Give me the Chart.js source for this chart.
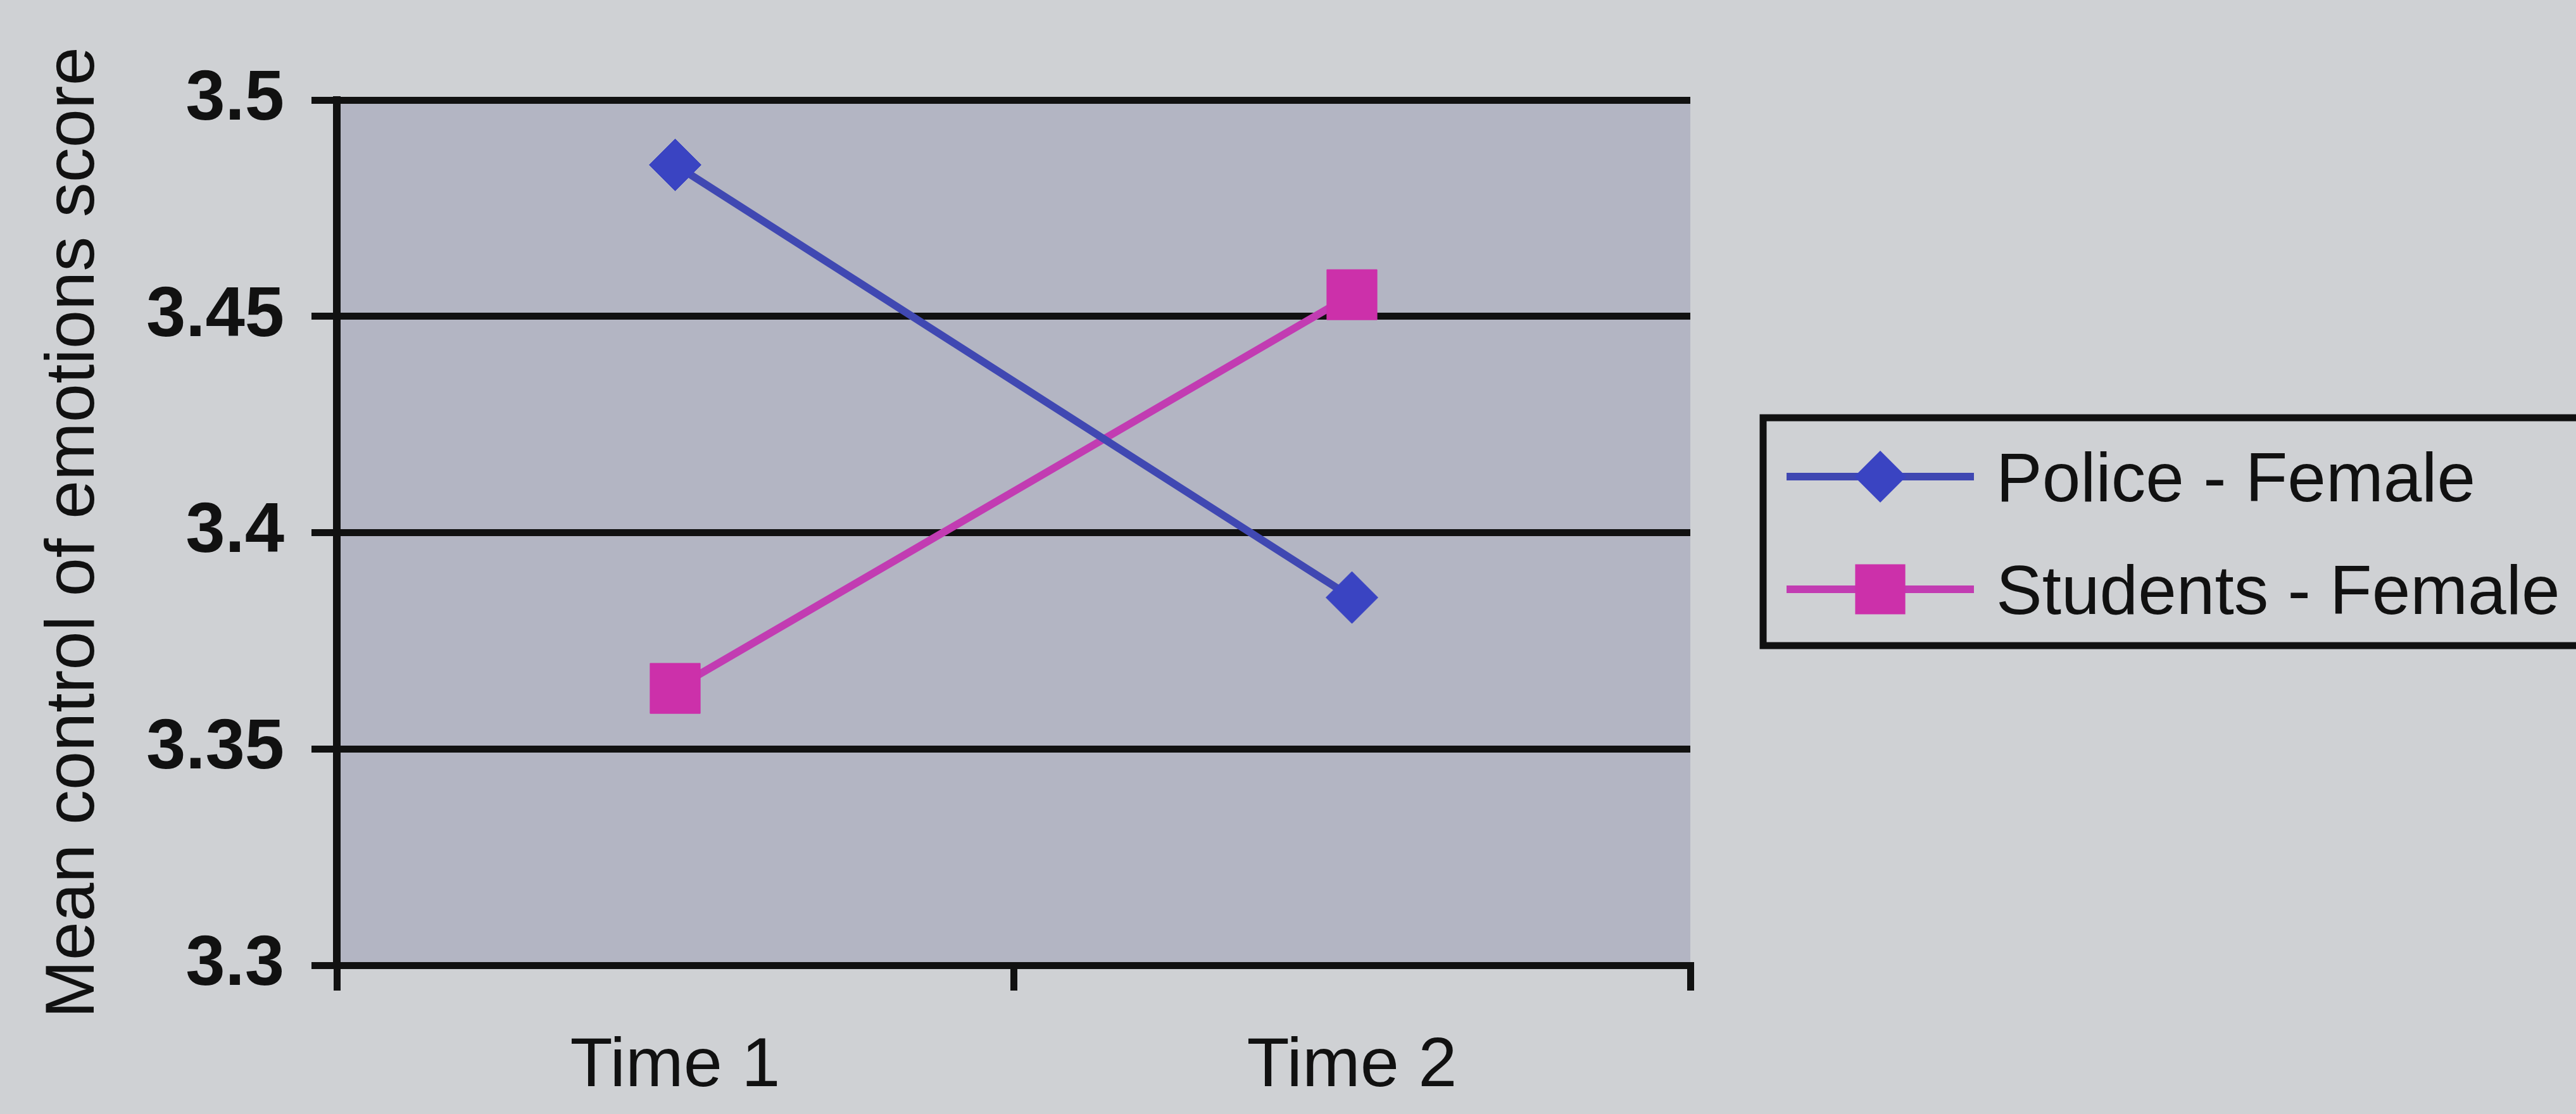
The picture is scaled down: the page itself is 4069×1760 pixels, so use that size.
<!DOCTYPE html>
<html>
<head>
<meta charset="utf-8">
<script src="https://cdn.jsdelivr.net/npm/chart.js@4/dist/chart.umd.min.js"></script>
<style>
  html, body { margin: 0; padding: 0; background: #cfd1d4; }
  #wrap { width: 4069px; height: 1760px; position: relative; }
  canvas { display: block; }
</style>
</head>
<body>
<div id="wrap"><canvas id="chart" width="4069" height="1760"></canvas></div>
<script>
// Data
const categories = ['Time 1', 'Time 2'];
const seriesNames = ['Police - Female', 'Students - Female'];
const policeFemale = [3.485, 3.385];
const studentsFemale = [3.364, 3.455];
const yTickLabels = ['3.3', '3.35', '3.4', '3.45', '3.5'];
const yAxisTitle = 'Mean control of emotions score';

const FONT = "'Liberation Sans', Arial, Helvetica, sans-serif";
const INK = '#111';
const PAGE_BG = '#cfd1d4';
const PLOT_BG = '#b3b5c3';

const seriesStyles = [
  { line: '#4048b2', fill: '#3a44c2', shape: 'rectRot', radius: 41 },
  { line: '#c23cb2', fill: '#cc30aa', shape: 'rect', radius: 56 }
];

// Page and plot-area backgrounds
const backgroundPlugin = {
  id: 'backgrounds',
  beforeDraw(chart) {
    const { ctx, chartArea: a } = chart;
    ctx.save();
    ctx.fillStyle = PAGE_BG;
    ctx.fillRect(0, 0, chart.width, chart.height);
    ctx.fillStyle = PLOT_BG;
    ctx.fillRect(a.left, a.top, a.right - a.left, a.bottom - a.top);
    ctx.restore();
  }
};

// Boxed legend with line + marker samples
function drawMarker(ctx, shape, r, x, y) {
  ctx.beginPath();
  if (shape === 'rectRot') {
    ctx.moveTo(x - r, y);
    ctx.lineTo(x, y - r);
    ctx.lineTo(x + r, y);
    ctx.lineTo(x, y + r);
  } else {
    const h = Math.SQRT1_2 * r;
    ctx.rect(x - h, y - h, 2 * h, 2 * h);
  }
  ctx.closePath();
  ctx.fill();
}

const boxLegendPlugin = {
  id: 'boxLegend',
  afterDraw(chart) {
    const ctx = chart.ctx;
    const box = { left: 2785, top: 660, bottom: 1020, right: 4120 };
    const rows = [753, 931];
    const lineStart = 2822, lineEnd = 3118, textX = 3153;
    ctx.save();
    ctx.strokeStyle = INK;
    ctx.lineWidth = 11;
    ctx.strokeRect(box.left, box.top, box.right - box.left, box.bottom - box.top);
    chart.data.datasets.forEach((ds, i) => {
      const st = seriesStyles[i];
      const y = rows[i];
      ctx.strokeStyle = st.line;
      ctx.lineWidth = 12;
      ctx.beginPath();
      ctx.moveTo(lineStart, y);
      ctx.lineTo(lineEnd, y);
      ctx.stroke();
      ctx.fillStyle = st.fill;
      drawMarker(ctx, st.shape, st.radius, (lineStart + lineEnd) / 2, y);
      ctx.fillStyle = INK;
      ctx.font = `109px ${FONT}`;
      ctx.textBaseline = 'alphabetic';
      ctx.textAlign = 'left';
      ctx.fillText(ds.label, textX, y + 39);
    });
    ctx.restore();
  }
};

const datasets = [policeFemale, studentsFemale].map((values, i) => ({
  label: seriesNames[i],
  data: values,
  borderColor: seriesStyles[i].line,
  backgroundColor: seriesStyles[i].fill,
  borderWidth: 12,
  pointStyle: seriesStyles[i].shape,
  pointRadius: seriesStyles[i].radius,
  pointHoverRadius: seriesStyles[i].radius,
  pointBackgroundColor: seriesStyles[i].fill,
  pointBorderColor: seriesStyles[i].fill,
  pointBorderWidth: 1,
  tension: 0,
  fill: false
}));

new Chart(document.getElementById('chart'), {
  type: 'line',
  data: { labels: categories, datasets },
  options: {
    responsive: false,
    animation: false,
    devicePixelRatio: 1,
    layout: { padding: { top: 158, right: 1399, bottom: 0, left: 0 } },
    plugins: {
      legend: { display: false },
      tooltip: { enabled: false }
    },
    scales: {
      x: {
        type: 'category',
        offset: true,
        grid: {
          offset: true,
          drawOnChartArea: false,
          drawTicks: true,
          tickLength: 40,
          color: INK,
          lineWidth: 11
        },
        border: { display: true, color: INK, width: 11 },
        ticks: {
          color: INK,
          padding: 55,
          font: { family: FONT, size: 110 }
        },
        afterFit(scale) { scale.height = 235; }
      },
      y: {
        min: 3.3,
        max: 3.5,
        ticks: {
          stepSize: 0.05,
          color: INK,
          padding: 43,
          font: { family: FONT, size: 112, weight: 'bold' },
          callback: (value, index) => yTickLabels[index]
        },
        grid: {
          color: INK,
          lineWidth: 11,
          tickLength: 40,
          drawTicks: true
        },
        border: { display: true, color: INK, width: 12 },
        title: {
          display: true,
          text: yAxisTitle,
          color: INK,
          padding: { top: 52, bottom: 0 },
          font: { family: FONT, size: 110 }
        },
        afterFit(scale) { scale.width = 532; }
      }
    }
  },
  plugins: [backgroundPlugin, boxLegendPlugin]
});
</script>
</body>
</html>
